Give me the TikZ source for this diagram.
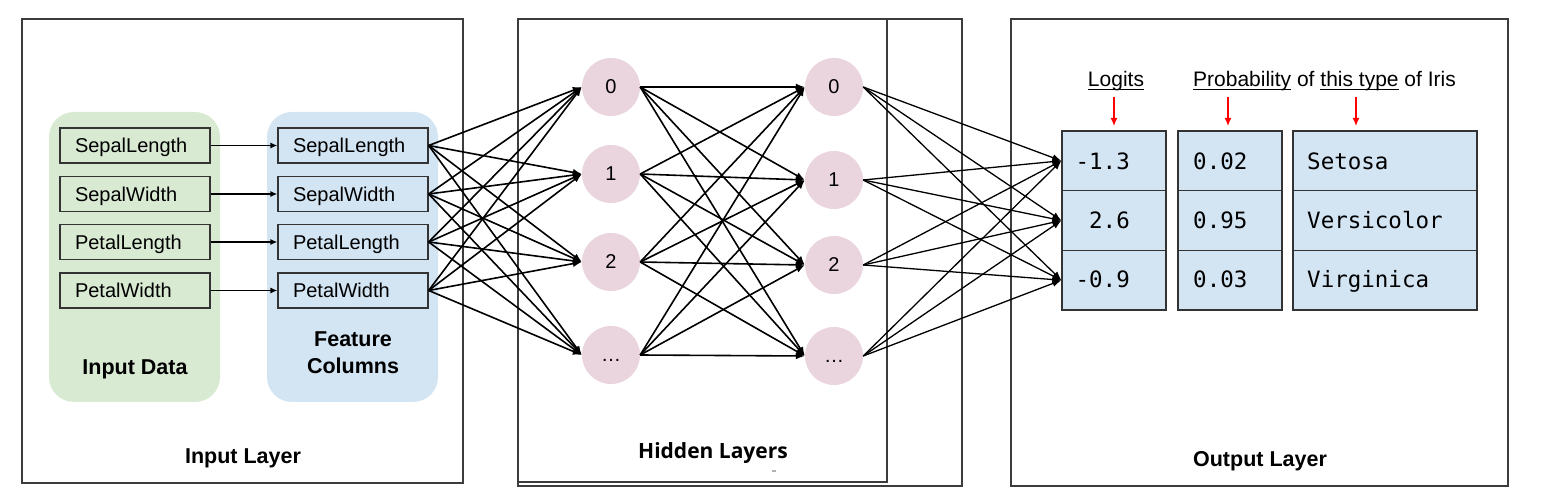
\documentclass[tikz,border=0pt]{standalone}
\usepackage{fontspec}
\setmainfont{Liberation Sans}
\newfontfamily\monofont{DejaVu Sans Mono}
\newfontfamily\hiddenfont{Open Sans}
\newcommand\myul[1]{\setbox0\hbox{#1}\rlap{\rule[-3.5pt]{\wd0}{1.1pt}}\box0\relax}
\usetikzlibrary{arrows.meta}
\definecolor{greenpanel}{HTML}{D9EAD3}
\definecolor{bluepanel}{HTML}{D3E4F3}
\definecolor{pinknode}{HTML}{EAD5DF}
\definecolor{framegray}{HTML}{3C3C3C}
\definecolor{boxborder}{HTML}{333333}
\definecolor{redarrowc}{HTML}{FF0000}
\begin{document}
\begin{tikzpicture}[x=1pt,y=-1pt,
  frame/.style={draw=framegray, line width=1.4pt},
  fbox/.style={draw=boxborder, line width=1.3pt, minimum height=35pt, text width=120pt, inner xsep=15pt, inner ysep=0pt, align=left, text height=14.5pt, text depth=0pt, font=\fontsize{20}{24}\selectfont},
  hnode/.style={circle, fill=pinknode, minimum size=58pt, inner sep=0pt, font=\fontsize{20}{24}\selectfont},
  cell/.style={draw=boxborder, fill=bluepanel, line width=1.3pt, minimum height=59.67pt, inner sep=0pt},
  mono/.style={font=\monofont\fontsize{22.5}{27}\selectfont, inner sep=0pt},
  title/.style={font=\bfseries\fontsize{21.5}{27}\selectfont, inner sep=0pt},
  header/.style={font=\fontsize{21}{25}\selectfont, inner sep=0pt},
  shortarrow/.style={draw=black, line width=1.3pt, -{Latex[length=7pt,width=6pt]}},
  edge/.style={draw=black, line width=1.6pt, -{Latex[length=9pt,width=7pt]}},
  redarrow/.style={draw=redarrowc, line width=1.3pt, -{Latex[length=8pt,width=7pt]}}
]
\useasboundingbox (0,0) rectangle (1550,502);
\fill[white] (0,0) rectangle (1550,502);

% frames
\draw[frame] (22,19) rectangle (463,483);
\draw[frame] (518,19) rectangle (962,486);
\draw[frame] (518,19) rectangle (887,482);
\draw[frame] (1011,19) rectangle (1508,486);
\draw[gray!60, line width=1.2pt] (772,471) -- (776,471);

% panels
\fill[greenpanel, rounded corners=25pt] (49,112) rectangle (220,402);
\fill[bluepanel, rounded corners=25pt] (267,112) rectangle (438,402);

% input boxes
\node[fbox, fill=greenpanel] (i1) at (135,145.5) {SepalLength};
\node[fbox, fill=greenpanel] (i2) at (135,194) {SepalWidth};
\node[fbox, fill=greenpanel] (i3) at (135,242) {PetalLength};
\node[fbox, fill=greenpanel] (i4) at (135,290.5) {PetalWidth};
\node[fbox, fill=bluepanel] (f1) at (353,145.5) {SepalLength};
\node[fbox, fill=bluepanel] (f2) at (353,194) {SepalWidth};
\node[fbox, fill=bluepanel] (f3) at (353,242) {PetalLength};
\node[fbox, fill=bluepanel] (f4) at (353,290.5) {PetalWidth};
\foreach \k in {1,2,3,4} \draw[shortarrow] (i\k.east) -- (f\k.west);

\node[title, anchor=base] (inputdata) at (135,374) {Input Data};
\node[title, align=center] (featcols) at (353,353) {Feature\\Columns};
\node[title, anchor=base] (inputlayer) at (243,463) {Input Layer};

% hidden nodes
\node[hnode] (a0) at (611,87) {0};
\node[hnode] (a1) at (611,174) {1};
\node[hnode] (a2) at (611,262) {2};
\node[hnode] (a3) at (611,355) {\vphantom{0}…};
\node[hnode] (b0) at (834,87) {0};
\node[hnode] (b1) at (834,180) {1};
\node[hnode] (b2) at (834,265) {2};
\node[hnode] (b3) at (834,356) {\vphantom{0}…};

\node[font=\hiddenfont\bfseries\fontsize{21}{26}\selectfont, anchor=base, inner sep=0pt] (hiddenlayers) at (713,458) {Hidden Layers};

% output cells
\node[cell, minimum width=104pt] (l1) at (1114,160.8) {};
\node[cell, minimum width=104pt] (l2) at (1114,220.5) {};
\node[cell, minimum width=104pt] (l3) at (1114,280.2) {};
\node[cell, minimum width=104pt] (p1) at (1230,160.8) {};
\node[cell, minimum width=104pt] (p2) at (1230,220.5) {};
\node[cell, minimum width=104pt] (p3) at (1230,280.2) {};
\node[cell, minimum width=184pt] (c1) at (1385,160.8) {};
\node[cell, minimum width=184pt] (c2) at (1385,220.5) {};
\node[cell, minimum width=184pt] (c3) at (1385,280.2) {};

\node[mono, anchor=base east] (l1t) at (1130,170) {-1.3};
\node[mono, anchor=base east] (l2t) at (1130,229) {2.6};
\node[mono, anchor=base east] (l3t) at (1130,288) {-0.9};
\node[mono, anchor=base west] (p1t) at (1193,170) {0.02};
\node[mono, anchor=base west] (p2t) at (1193,229) {0.95};
\node[mono, anchor=base west] (p3t) at (1193,288) {0.03};
\node[mono, anchor=base west] (c1t) at (1307,170) {Setosa};
\node[mono, anchor=base west] (c2t) at (1307,229) {Versicolor};
\node[mono, anchor=base west] (c3t) at (1307,288) {Virginica};

\node[header, anchor=base] (logits) at (1116,87) {\myul{Logits}};
\node[header, anchor=base west] (prob) at (1193,87) {\myul{Probability} of \myul{this type} of Iris};

\coordinate (r1s) at (1114,97); \coordinate (r1e) at (1114,126);
\coordinate (r2s) at (1228,97); \coordinate (r2e) at (1228,126);
\coordinate (r3s) at (1356,97); \coordinate (r3e) at (1356,126);
\foreach \k in {1,2,3} \draw[redarrow] (r\k s) -- (r\k e);

\node[title, anchor=base] (outputlayer) at (1260,466) {Output Layer};

% connections
\foreach \f in {f1,f2,f3,f4}
  \foreach \h in {a0,a1,a2,a3}
    \draw[edge] (\f.east) -- (\h.west);
\foreach \f in {a0,a1,a2,a3}
  \foreach \h in {b0,b1,b2,b3}
    \draw[edge] (\f.east) -- (\h.west);
\foreach \f in {b0,b1,b2,b3}
  \foreach \h in {l1,l2,l3}
    \draw[edge, line width=1.3pt] (\f.east) -- (\h.west);
\end{tikzpicture}
\end{document}
